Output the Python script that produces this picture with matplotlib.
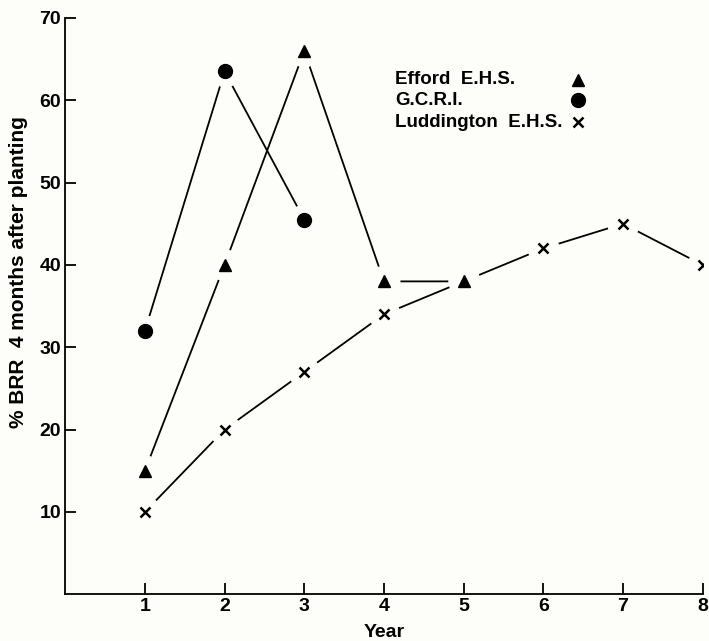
import matplotlib
matplotlib.use("Agg")
import matplotlib.pyplot as plt

plt.rcParams['font.family'] = ['Liberation Sans Narrow', 'Liberation Sans', 'DejaVu Sans']
plt.rcParams['font.weight'] = 'bold'

# Data
efford_years = [1, 2, 3, 4, 5]
efford_vals = [15, 40, 66, 38, 38]
gcri_years = [1, 2, 3]
gcri_vals = [32, 63.5, 45.5]
lud_years = [1, 2, 3, 4, 5, 6, 7, 8]
lud_vals = [10, 20, 27, 34, 38, 42, 45, 40]
xticks = [1, 2, 3, 4, 5, 6, 7, 8]
yticks = [10, 20, 30, 40, 50, 60, 70]
labels = ['Efford  E.H.S.', 'G.C.R.I.', 'Luddington  E.H.S.']

bg = '#fdfdf9'
fig = plt.figure(figsize=(7.09, 6.41), dpi=100, facecolor=bg)
ax = fig.add_axes([0.092, 0.073, 0.899, 0.899], facecolor=bg)

series = [
    (lud_years, lud_vals, 'x', 7, 3, 4),
    (gcri_years, gcri_vals, 'o', 10, 3, 5),
    (efford_years, efford_vals, '^', 9, 4.5, 5),
]

# lines
for xs, ys, m, ms, gz, mz in series:
    ax.plot(xs, ys, color='black', lw=1.3, zorder=2, solid_capstyle='butt')
# gaps around markers
for xs, ys, m, ms, gz, mz in series:
    ax.plot(xs, ys, linestyle='none', marker='o', markersize=22,
            markerfacecolor=bg, markeredgecolor=bg, zorder=gz)
# markers
for xs, ys, m, ms, gz, mz in series:
    if m == 'x':
        ax.plot(xs, ys, linestyle='none', marker=m, markersize=ms,
                color='black', markeredgewidth=1.8, zorder=mz)
    else:
        ax.plot(xs, ys, linestyle='none', marker=m, markersize=ms,
                color='black', zorder=mz)

ax.set_xlim(0, 8)
ax.set_ylim(0, 70)
ax.set_xticks(xticks)
ax.set_yticks(yticks)
ax.tick_params(direction='in', length=8, width=1.3, labelsize=14, colors='black', pad=3)
for lab in ax.get_xticklabels() + ax.get_yticklabels():
    lab.set_fontweight('bold')
ax.spines['top'].set_visible(False)
ax.spines['right'].set_visible(False)
ax.spines['left'].set_linewidth(1.3)
ax.spines['bottom'].set_linewidth(1.3)

ax.set_xlabel('Year', fontsize=14, fontweight='bold', labelpad=6)
ax.set_ylabel('% BRR  4 months after planting', fontsize=15, fontweight='bold')
ax.yaxis.set_label_coords(-0.058, 0.559)

# legend
ly = [0.893, 0.857, 0.819]
for (xs, ys, m, ms, gz, mz), lab, yy in zip([series[2], series[1], series[0]], labels, ly):
    ax.text(0.518, yy, lab, transform=ax.transAxes, fontsize=13.5, fontweight='bold',
            va='center', ha='left')
    if m == 'x':
        ax.plot([0.804], [yy], transform=ax.transAxes, marker=m, markersize=ms,
                color='black', markeredgewidth=1.8, clip_on=False)
    else:
        ax.plot([0.804], [yy], transform=ax.transAxes, marker=m, markersize=ms,
                color='black', clip_on=False)

fig.savefig('out.png', dpi=100, facecolor=bg)
